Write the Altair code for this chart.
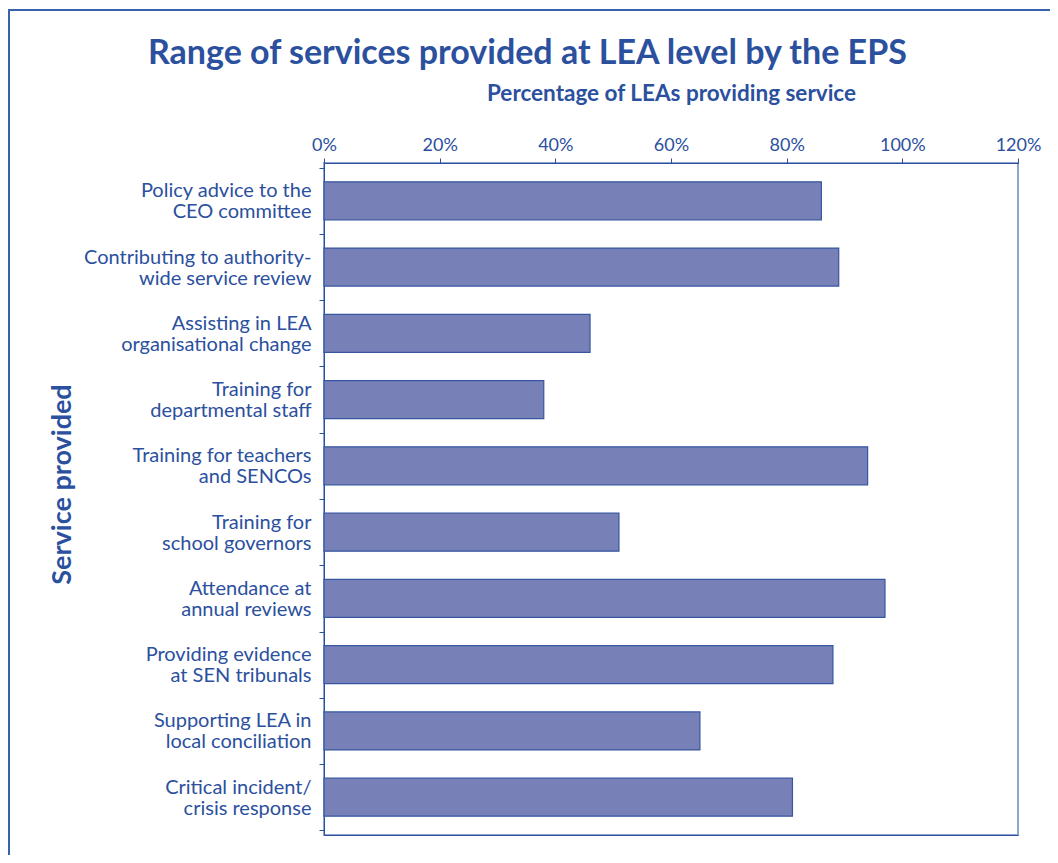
import altair as alt
import pandas as pd

services = [
    "Policy advice to the|CEO committee",
    "Contributing to authority-|wide service review",
    "Assisting in LEA|organisational change",
    "Training for|departmental staff",
    "Training for teachers|and SENCOs",
    "Training for|school governors",
    "Attendance at|annual reviews",
    "Providing evidence|at SEN tribunals",
    "Supporting LEA in|local conciliation",
    "Critical incident/|crisis response",
]
percent = [86, 89, 46, 38, 94, 51, 97, 88, 65, 81]

df = pd.DataFrame({"service": services, "pct": [p / 100 for p in percent]})

BLUE = "#2b509e"
FONT = "Lato"

x_scale = alt.Scale(domain=[0, 1.2], nice=False, zero=True)
y_scale = alt.Scale(domain=services, paddingInner=0, paddingOuter=0.07)

bars = alt.Chart(df).mark_bar(
    size=38, color="#7880b8", stroke="#3656a0", strokeWidth=1.2
).encode(
    x=alt.X(
        "pct:Q",
        scale=x_scale,
        axis=alt.Axis(
            orient="top",
            format="%",
            values=[0, 0.2, 0.4, 0.6, 0.8, 1.0, 1.2],
            title="Percentage of LEAs providing service",
            titleFont=FONT,
            titleFontSize=22.5,
            titleFontWeight="bold",
            titleColor=BLUE,
            titlePadding=31,
            labelFont=FONT,
            labelFontSize=18,
            labelColor=BLUE,
            labelPadding=4,
            labelFlush=False,
            tickColor=BLUE,
            tickSize=5,
            domainColor=BLUE,
            grid=False,
        ),
    ),
    y=alt.Y(
        "service:N",
        scale=y_scale,
        sort=services,
        axis=alt.Axis(
            title="Service provided",
            titleFont=FONT,
            titleFontSize=27,
            titleFontWeight="bold",
            titleColor=BLUE,
            titleAngle=-90,
            titleX=-262,
            titleY=321,
            titleAlign="center",
            titleBaseline="middle",
            labelExpr="split(datum.label, '|')",
            labelFont=FONT,
            labelFontSize=20,
            labelColor=BLUE,
            labelLineHeight=21,
            labelPadding=8,
            labelOffset=-10,
            labelLimit=300,
            tickBand="extent",
            tickColor=BLUE,
            tickSize=5,
            domainColor=BLUE,
            grid=False,
        ),
    ),
)

bottom = alt.Chart(df).mark_tick(opacity=0).encode(
    x=alt.X(
        "pct:Q",
        scale=x_scale,
        axis=alt.Axis(
            orient="bottom", labels=False, ticks=False, title=None,
            domainColor=BLUE, grid=False,
        ),
    ),
)

frame = alt.Chart(df).mark_rect(
    fill=None, stroke="#3a62ad", strokeWidth=1.5, clip=False
).encode(
    x=alt.value(-315), x2=alt.value(760),
    y=alt.value(-153), y2=alt.value(760),
)

chart = (
    alt.layer(bars, bottom, frame)
    .resolve_axis(x="independent")
    .properties(
        width=694,
        height=672,
        padding={"left": 316, "top": 155, "right": 32, "bottom": 20},
        autosize=alt.AutoSizeParams(type="none"),
        title=alt.TitleParams(
            "Range of services provided at LEA level by the EPS",
            font=FONT,
            fontSize=34,
            fontWeight="bold",
            color=BLUE,
            anchor="start",
            frame="group",
            dx=-176,
            dy=62,
            offset=0,
        ),
        background="white",
    )
    .configure_view(stroke="#8ea3d0", strokeWidth=2)
)

chart.save("out.html", embed_options={"renderer": "svg", "actions": False})
